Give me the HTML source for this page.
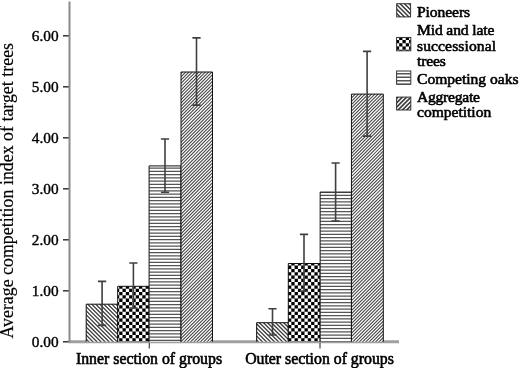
<!DOCTYPE html>
<html><head><meta charset="utf-8">
<style>
html,body{margin:0;padding:0;background:#fff;width:520px;height:368px;overflow:hidden}
svg{display:block;filter:grayscale(1)}
text{font-family:"Liberation Serif",serif;fill:#000;stroke:#000;stroke-width:0.6px}
.tl text{stroke-width:0.4px}
.yl{stroke-width:0.2px}
</style></head><body>
<svg width="520" height="368" viewBox="0 0 520 368">
<text class="yl" transform="translate(13,338.5) rotate(-90)" font-size="17.8" textLength="295.5" lengthAdjust="spacing">Average competition index of target trees</text>
<g class="tl" font-size="15.3" text-anchor="end"><text x="58.6" y="347.1">0.00</text><text x="58.6" y="296.1">1.00</text><text x="58.6" y="245.1">2.00</text><text x="58.6" y="194.1">3.00</text><text x="58.6" y="143.1">4.00</text><text x="58.6" y="92.1">5.00</text><text x="58.6" y="41.1">6.00</text></g>
<g stroke="#333" stroke-width="1.5"><line x1="63" y1="341.8" x2="69" y2="341.8"/><line x1="63" y1="290.8" x2="69" y2="290.8"/><line x1="63" y1="239.8" x2="69" y2="239.8"/><line x1="63" y1="188.8" x2="69" y2="188.8"/><line x1="63" y1="137.8" x2="69" y2="137.8"/><line x1="63" y1="86.8" x2="69" y2="86.8"/><line x1="63" y1="35.8" x2="69" y2="35.8"/></g>
<line x1="68.5" y1="341.85" x2="399" y2="341.85" stroke="#a0a0a0" stroke-width="3"/>
<line x1="69.5" y1="1.5" x2="69.5" y2="342.5" stroke="#8a8a8a" stroke-width="2"/>
<rect x="86.2" y="304.2" width="31.5" height="37.5" fill="#fff"/>
<clipPath id="c0"><rect x="86.2" y="304.2" width="31.5" height="37.5"/></clipPath>
<path clip-path="url(#c0)" d="M42.2 303.2L81.7 342.7M46.24 303.2L85.74 342.7M50.28 303.2L89.78 342.7M54.32 303.2L93.82 342.7M58.36 303.2L97.86 342.7M62.4 303.2L101.9 342.7M66.44 303.2L105.94 342.7M70.48 303.2L109.98 342.7M74.52 303.2L114.02 342.7M78.56 303.2L118.06 342.7M82.6 303.2L122.1 342.7M86.64 303.2L126.14 342.7M90.68 303.2L130.18 342.7M94.72 303.2L134.22 342.7M98.76 303.2L138.26 342.7M102.8 303.2L142.3 342.7M106.84 303.2L146.34 342.7M110.88 303.2L150.38 342.7M114.92 303.2L154.42 342.7M118.96 303.2L158.46 342.7" stroke="#3c3c3c" stroke-width="1.3" fill="none"/>
<path d="M86.2 341.7V304.2H117.7V341.7" fill="none" stroke="#111" stroke-width="1"/>
<rect x="117.7" y="286.3" width="31.4" height="55.4" fill="#fff"/>
<clipPath id="c1"><rect x="117.7" y="286.3" width="31.4" height="55.4"/></clipPath>
<path clip-path="url(#c1)" d="M115.9 282.1h3.3v3.3h-3.3zM122.5 282.1h3.3v3.3h-3.3zM129.1 282.1h3.3v3.3h-3.3zM135.7 282.1h3.3v3.3h-3.3zM142.3 282.1h3.3v3.3h-3.3zM148.9 282.1h3.3v3.3h-3.3zM112.6 285.4h3.3v3.3h-3.3zM119.2 285.4h3.3v3.3h-3.3zM125.8 285.4h3.3v3.3h-3.3zM132.4 285.4h3.3v3.3h-3.3zM139 285.4h3.3v3.3h-3.3zM145.6 285.4h3.3v3.3h-3.3zM152.2 285.4h3.3v3.3h-3.3zM115.9 288.7h3.3v3.3h-3.3zM122.5 288.7h3.3v3.3h-3.3zM129.1 288.7h3.3v3.3h-3.3zM135.7 288.7h3.3v3.3h-3.3zM142.3 288.7h3.3v3.3h-3.3zM148.9 288.7h3.3v3.3h-3.3zM112.6 292h3.3v3.3h-3.3zM119.2 292h3.3v3.3h-3.3zM125.8 292h3.3v3.3h-3.3zM132.4 292h3.3v3.3h-3.3zM139 292h3.3v3.3h-3.3zM145.6 292h3.3v3.3h-3.3zM152.2 292h3.3v3.3h-3.3zM115.9 295.3h3.3v3.3h-3.3zM122.5 295.3h3.3v3.3h-3.3zM129.1 295.3h3.3v3.3h-3.3zM135.7 295.3h3.3v3.3h-3.3zM142.3 295.3h3.3v3.3h-3.3zM148.9 295.3h3.3v3.3h-3.3zM112.6 298.6h3.3v3.3h-3.3zM119.2 298.6h3.3v3.3h-3.3zM125.8 298.6h3.3v3.3h-3.3zM132.4 298.6h3.3v3.3h-3.3zM139 298.6h3.3v3.3h-3.3zM145.6 298.6h3.3v3.3h-3.3zM152.2 298.6h3.3v3.3h-3.3zM115.9 301.9h3.3v3.3h-3.3zM122.5 301.9h3.3v3.3h-3.3zM129.1 301.9h3.3v3.3h-3.3zM135.7 301.9h3.3v3.3h-3.3zM142.3 301.9h3.3v3.3h-3.3zM148.9 301.9h3.3v3.3h-3.3zM112.6 305.2h3.3v3.3h-3.3zM119.2 305.2h3.3v3.3h-3.3zM125.8 305.2h3.3v3.3h-3.3zM132.4 305.2h3.3v3.3h-3.3zM139 305.2h3.3v3.3h-3.3zM145.6 305.2h3.3v3.3h-3.3zM152.2 305.2h3.3v3.3h-3.3zM115.9 308.5h3.3v3.3h-3.3zM122.5 308.5h3.3v3.3h-3.3zM129.1 308.5h3.3v3.3h-3.3zM135.7 308.5h3.3v3.3h-3.3zM142.3 308.5h3.3v3.3h-3.3zM148.9 308.5h3.3v3.3h-3.3zM112.6 311.8h3.3v3.3h-3.3zM119.2 311.8h3.3v3.3h-3.3zM125.8 311.8h3.3v3.3h-3.3zM132.4 311.8h3.3v3.3h-3.3zM139 311.8h3.3v3.3h-3.3zM145.6 311.8h3.3v3.3h-3.3zM152.2 311.8h3.3v3.3h-3.3zM115.9 315.1h3.3v3.3h-3.3zM122.5 315.1h3.3v3.3h-3.3zM129.1 315.1h3.3v3.3h-3.3zM135.7 315.1h3.3v3.3h-3.3zM142.3 315.1h3.3v3.3h-3.3zM148.9 315.1h3.3v3.3h-3.3zM112.6 318.4h3.3v3.3h-3.3zM119.2 318.4h3.3v3.3h-3.3zM125.8 318.4h3.3v3.3h-3.3zM132.4 318.4h3.3v3.3h-3.3zM139 318.4h3.3v3.3h-3.3zM145.6 318.4h3.3v3.3h-3.3zM152.2 318.4h3.3v3.3h-3.3zM115.9 321.7h3.3v3.3h-3.3zM122.5 321.7h3.3v3.3h-3.3zM129.1 321.7h3.3v3.3h-3.3zM135.7 321.7h3.3v3.3h-3.3zM142.3 321.7h3.3v3.3h-3.3zM148.9 321.7h3.3v3.3h-3.3zM112.6 325h3.3v3.3h-3.3zM119.2 325h3.3v3.3h-3.3zM125.8 325h3.3v3.3h-3.3zM132.4 325h3.3v3.3h-3.3zM139 325h3.3v3.3h-3.3zM145.6 325h3.3v3.3h-3.3zM152.2 325h3.3v3.3h-3.3zM115.9 328.3h3.3v3.3h-3.3zM122.5 328.3h3.3v3.3h-3.3zM129.1 328.3h3.3v3.3h-3.3zM135.7 328.3h3.3v3.3h-3.3zM142.3 328.3h3.3v3.3h-3.3zM148.9 328.3h3.3v3.3h-3.3zM112.6 331.6h3.3v3.3h-3.3zM119.2 331.6h3.3v3.3h-3.3zM125.8 331.6h3.3v3.3h-3.3zM132.4 331.6h3.3v3.3h-3.3zM139 331.6h3.3v3.3h-3.3zM145.6 331.6h3.3v3.3h-3.3zM152.2 331.6h3.3v3.3h-3.3zM115.9 334.9h3.3v3.3h-3.3zM122.5 334.9h3.3v3.3h-3.3zM129.1 334.9h3.3v3.3h-3.3zM135.7 334.9h3.3v3.3h-3.3zM142.3 334.9h3.3v3.3h-3.3zM148.9 334.9h3.3v3.3h-3.3zM112.6 338.2h3.3v3.3h-3.3zM119.2 338.2h3.3v3.3h-3.3zM125.8 338.2h3.3v3.3h-3.3zM132.4 338.2h3.3v3.3h-3.3zM139 338.2h3.3v3.3h-3.3zM145.6 338.2h3.3v3.3h-3.3zM152.2 338.2h3.3v3.3h-3.3zM115.9 341.5h3.3v3.3h-3.3zM122.5 341.5h3.3v3.3h-3.3zM129.1 341.5h3.3v3.3h-3.3zM135.7 341.5h3.3v3.3h-3.3zM142.3 341.5h3.3v3.3h-3.3zM148.9 341.5h3.3v3.3h-3.3zM112.6 344.8h3.3v3.3h-3.3zM119.2 344.8h3.3v3.3h-3.3zM125.8 344.8h3.3v3.3h-3.3zM132.4 344.8h3.3v3.3h-3.3zM139 344.8h3.3v3.3h-3.3zM145.6 344.8h3.3v3.3h-3.3zM152.2 344.8h3.3v3.3h-3.3z" fill="#000"/>
<path d="M117.7 341.7V286.3H149.1V341.7" fill="none" stroke="#111" stroke-width="1"/>
<rect x="149.1" y="165.9" width="31.9" height="175.8" fill="#fff"/>
<clipPath id="c2"><rect x="149.1" y="165.9" width="31.9" height="175.8"/></clipPath>
<path clip-path="url(#c2)" d="M149.1 161.02h31.9v1.35h-31.9zM149.1 164.27h31.9v1.35h-31.9zM149.1 167.52h31.9v1.35h-31.9zM149.1 170.77h31.9v1.35h-31.9zM149.1 174.02h31.9v1.35h-31.9zM149.1 177.27h31.9v1.35h-31.9zM149.1 180.52h31.9v1.35h-31.9zM149.1 183.77h31.9v1.35h-31.9zM149.1 187.02h31.9v1.35h-31.9zM149.1 190.27h31.9v1.35h-31.9zM149.1 193.52h31.9v1.35h-31.9zM149.1 196.77h31.9v1.35h-31.9zM149.1 200.02h31.9v1.35h-31.9zM149.1 203.27h31.9v1.35h-31.9zM149.1 206.52h31.9v1.35h-31.9zM149.1 209.77h31.9v1.35h-31.9zM149.1 213.02h31.9v1.35h-31.9zM149.1 216.27h31.9v1.35h-31.9zM149.1 219.52h31.9v1.35h-31.9zM149.1 222.77h31.9v1.35h-31.9zM149.1 226.02h31.9v1.35h-31.9zM149.1 229.27h31.9v1.35h-31.9zM149.1 232.52h31.9v1.35h-31.9zM149.1 235.77h31.9v1.35h-31.9zM149.1 239.02h31.9v1.35h-31.9zM149.1 242.27h31.9v1.35h-31.9zM149.1 245.52h31.9v1.35h-31.9zM149.1 248.77h31.9v1.35h-31.9zM149.1 252.02h31.9v1.35h-31.9zM149.1 255.27h31.9v1.35h-31.9zM149.1 258.52h31.9v1.35h-31.9zM149.1 261.77h31.9v1.35h-31.9zM149.1 265.02h31.9v1.35h-31.9zM149.1 268.27h31.9v1.35h-31.9zM149.1 271.52h31.9v1.35h-31.9zM149.1 274.77h31.9v1.35h-31.9zM149.1 278.02h31.9v1.35h-31.9zM149.1 281.27h31.9v1.35h-31.9zM149.1 284.52h31.9v1.35h-31.9zM149.1 287.77h31.9v1.35h-31.9zM149.1 291.02h31.9v1.35h-31.9zM149.1 294.27h31.9v1.35h-31.9zM149.1 297.52h31.9v1.35h-31.9zM149.1 300.77h31.9v1.35h-31.9zM149.1 304.02h31.9v1.35h-31.9zM149.1 307.27h31.9v1.35h-31.9zM149.1 310.52h31.9v1.35h-31.9zM149.1 313.77h31.9v1.35h-31.9zM149.1 317.02h31.9v1.35h-31.9zM149.1 320.27h31.9v1.35h-31.9zM149.1 323.52h31.9v1.35h-31.9zM149.1 326.77h31.9v1.35h-31.9zM149.1 330.02h31.9v1.35h-31.9zM149.1 333.27h31.9v1.35h-31.9zM149.1 336.52h31.9v1.35h-31.9zM149.1 339.77h31.9v1.35h-31.9zM149.1 343.02h31.9v1.35h-31.9z" fill="#555555"/>
<path d="M149.1 341.7V165.9H181V341.7" fill="none" stroke="#111" stroke-width="1"/>
<rect x="181" y="72" width="31.5" height="269.7" fill="#fff"/>
<clipPath id="c3"><rect x="181" y="72" width="31.5" height="269.7"/></clipPath>
<path clip-path="url(#c3)" d="M-94.7 342.7L177 71M-91.43 342.7L180.27 71M-88.16 342.7L183.54 71M-84.89 342.7L186.81 71M-81.62 342.7L190.08 71M-78.35 342.7L193.35 71M-75.08 342.7L196.62 71M-71.81 342.7L199.89 71M-68.54 342.7L203.16 71M-65.27 342.7L206.43 71M-62 342.7L209.7 71M-58.73 342.7L212.97 71M-55.46 342.7L216.24 71M-52.19 342.7L219.51 71M-48.92 342.7L222.78 71M-45.65 342.7L226.05 71M-42.38 342.7L229.32 71M-39.11 342.7L232.59 71M-35.84 342.7L235.86 71M-32.57 342.7L239.13 71M-29.3 342.7L242.4 71M-26.03 342.7L245.67 71M-22.76 342.7L248.94 71M-19.49 342.7L252.21 71M-16.22 342.7L255.48 71M-12.95 342.7L258.75 71M-9.68 342.7L262.02 71M-6.41 342.7L265.29 71M-3.14 342.7L268.56 71M0.13 342.7L271.83 71M3.4 342.7L275.1 71M6.67 342.7L278.37 71M9.94 342.7L281.64 71M13.21 342.7L284.91 71M16.48 342.7L288.18 71M19.75 342.7L291.45 71M23.02 342.7L294.72 71M26.29 342.7L297.99 71M29.56 342.7L301.26 71M32.83 342.7L304.53 71M36.1 342.7L307.8 71M39.37 342.7L311.07 71M42.64 342.7L314.34 71M45.91 342.7L317.61 71M49.18 342.7L320.88 71M52.45 342.7L324.15 71M55.72 342.7L327.42 71M58.99 342.7L330.69 71M62.26 342.7L333.96 71M65.53 342.7L337.23 71M68.8 342.7L340.5 71M72.07 342.7L343.77 71M75.34 342.7L347.04 71M78.61 342.7L350.31 71M81.88 342.7L353.58 71M85.15 342.7L356.85 71M88.42 342.7L360.12 71M91.69 342.7L363.39 71M94.96 342.7L366.66 71M98.23 342.7L369.93 71M101.5 342.7L373.2 71M104.77 342.7L376.47 71M108.04 342.7L379.74 71M111.31 342.7L383.01 71M114.58 342.7L386.28 71M117.85 342.7L389.55 71M121.12 342.7L392.82 71M124.39 342.7L396.09 71M127.66 342.7L399.36 71M130.93 342.7L402.63 71M134.2 342.7L405.9 71M137.47 342.7L409.17 71M140.74 342.7L412.44 71M144.01 342.7L415.71 71M147.28 342.7L418.98 71M150.55 342.7L422.25 71M153.82 342.7L425.52 71M157.09 342.7L428.79 71M160.36 342.7L432.06 71M163.63 342.7L435.33 71M166.9 342.7L438.6 71M170.17 342.7L441.87 71M173.44 342.7L445.14 71M176.71 342.7L448.41 71M179.98 342.7L451.68 71M183.25 342.7L454.95 71M186.52 342.7L458.22 71M189.79 342.7L461.49 71M193.06 342.7L464.76 71M196.33 342.7L468.03 71M199.6 342.7L471.3 71M202.87 342.7L474.57 71M206.14 342.7L477.84 71M209.41 342.7L481.11 71M212.68 342.7L484.38 71" stroke="#404040" stroke-width="1.05" fill="none"/>
<path d="M181 341.7V72H212.5V341.7" fill="none" stroke="#111" stroke-width="1"/>
<rect x="256.65" y="322.7" width="31.65" height="19" fill="#fff"/>
<clipPath id="c4"><rect x="256.65" y="322.7" width="31.65" height="19"/></clipPath>
<path clip-path="url(#c4)" d="M230.18 321.7L251.18 342.7M234.22 321.7L255.22 342.7M238.26 321.7L259.26 342.7M242.3 321.7L263.3 342.7M246.34 321.7L267.34 342.7M250.38 321.7L271.38 342.7M254.42 321.7L275.42 342.7M258.46 321.7L279.46 342.7M262.5 321.7L283.5 342.7M266.54 321.7L287.54 342.7M270.58 321.7L291.58 342.7M274.62 321.7L295.62 342.7M278.66 321.7L299.66 342.7M282.7 321.7L303.7 342.7M286.74 321.7L307.74 342.7M290.78 321.7L311.78 342.7" stroke="#3c3c3c" stroke-width="1.3" fill="none"/>
<path d="M256.65 341.7V322.7H288.3V341.7" fill="none" stroke="#111" stroke-width="1"/>
<rect x="288.3" y="263.5" width="31.85" height="78.2" fill="#fff"/>
<clipPath id="c5"><rect x="288.3" y="263.5" width="31.85" height="78.2"/></clipPath>
<path clip-path="url(#c5)" d="M288 259h3.3v3.3h-3.3zM294.6 259h3.3v3.3h-3.3zM301.2 259h3.3v3.3h-3.3zM307.8 259h3.3v3.3h-3.3zM314.4 259h3.3v3.3h-3.3zM321 259h3.3v3.3h-3.3zM284.7 262.3h3.3v3.3h-3.3zM291.3 262.3h3.3v3.3h-3.3zM297.9 262.3h3.3v3.3h-3.3zM304.5 262.3h3.3v3.3h-3.3zM311.1 262.3h3.3v3.3h-3.3zM317.7 262.3h3.3v3.3h-3.3zM288 265.6h3.3v3.3h-3.3zM294.6 265.6h3.3v3.3h-3.3zM301.2 265.6h3.3v3.3h-3.3zM307.8 265.6h3.3v3.3h-3.3zM314.4 265.6h3.3v3.3h-3.3zM321 265.6h3.3v3.3h-3.3zM284.7 268.9h3.3v3.3h-3.3zM291.3 268.9h3.3v3.3h-3.3zM297.9 268.9h3.3v3.3h-3.3zM304.5 268.9h3.3v3.3h-3.3zM311.1 268.9h3.3v3.3h-3.3zM317.7 268.9h3.3v3.3h-3.3zM288 272.2h3.3v3.3h-3.3zM294.6 272.2h3.3v3.3h-3.3zM301.2 272.2h3.3v3.3h-3.3zM307.8 272.2h3.3v3.3h-3.3zM314.4 272.2h3.3v3.3h-3.3zM321 272.2h3.3v3.3h-3.3zM284.7 275.5h3.3v3.3h-3.3zM291.3 275.5h3.3v3.3h-3.3zM297.9 275.5h3.3v3.3h-3.3zM304.5 275.5h3.3v3.3h-3.3zM311.1 275.5h3.3v3.3h-3.3zM317.7 275.5h3.3v3.3h-3.3zM288 278.8h3.3v3.3h-3.3zM294.6 278.8h3.3v3.3h-3.3zM301.2 278.8h3.3v3.3h-3.3zM307.8 278.8h3.3v3.3h-3.3zM314.4 278.8h3.3v3.3h-3.3zM321 278.8h3.3v3.3h-3.3zM284.7 282.1h3.3v3.3h-3.3zM291.3 282.1h3.3v3.3h-3.3zM297.9 282.1h3.3v3.3h-3.3zM304.5 282.1h3.3v3.3h-3.3zM311.1 282.1h3.3v3.3h-3.3zM317.7 282.1h3.3v3.3h-3.3zM288 285.4h3.3v3.3h-3.3zM294.6 285.4h3.3v3.3h-3.3zM301.2 285.4h3.3v3.3h-3.3zM307.8 285.4h3.3v3.3h-3.3zM314.4 285.4h3.3v3.3h-3.3zM321 285.4h3.3v3.3h-3.3zM284.7 288.7h3.3v3.3h-3.3zM291.3 288.7h3.3v3.3h-3.3zM297.9 288.7h3.3v3.3h-3.3zM304.5 288.7h3.3v3.3h-3.3zM311.1 288.7h3.3v3.3h-3.3zM317.7 288.7h3.3v3.3h-3.3zM288 292h3.3v3.3h-3.3zM294.6 292h3.3v3.3h-3.3zM301.2 292h3.3v3.3h-3.3zM307.8 292h3.3v3.3h-3.3zM314.4 292h3.3v3.3h-3.3zM321 292h3.3v3.3h-3.3zM284.7 295.3h3.3v3.3h-3.3zM291.3 295.3h3.3v3.3h-3.3zM297.9 295.3h3.3v3.3h-3.3zM304.5 295.3h3.3v3.3h-3.3zM311.1 295.3h3.3v3.3h-3.3zM317.7 295.3h3.3v3.3h-3.3zM288 298.6h3.3v3.3h-3.3zM294.6 298.6h3.3v3.3h-3.3zM301.2 298.6h3.3v3.3h-3.3zM307.8 298.6h3.3v3.3h-3.3zM314.4 298.6h3.3v3.3h-3.3zM321 298.6h3.3v3.3h-3.3zM284.7 301.9h3.3v3.3h-3.3zM291.3 301.9h3.3v3.3h-3.3zM297.9 301.9h3.3v3.3h-3.3zM304.5 301.9h3.3v3.3h-3.3zM311.1 301.9h3.3v3.3h-3.3zM317.7 301.9h3.3v3.3h-3.3zM288 305.2h3.3v3.3h-3.3zM294.6 305.2h3.3v3.3h-3.3zM301.2 305.2h3.3v3.3h-3.3zM307.8 305.2h3.3v3.3h-3.3zM314.4 305.2h3.3v3.3h-3.3zM321 305.2h3.3v3.3h-3.3zM284.7 308.5h3.3v3.3h-3.3zM291.3 308.5h3.3v3.3h-3.3zM297.9 308.5h3.3v3.3h-3.3zM304.5 308.5h3.3v3.3h-3.3zM311.1 308.5h3.3v3.3h-3.3zM317.7 308.5h3.3v3.3h-3.3zM288 311.8h3.3v3.3h-3.3zM294.6 311.8h3.3v3.3h-3.3zM301.2 311.8h3.3v3.3h-3.3zM307.8 311.8h3.3v3.3h-3.3zM314.4 311.8h3.3v3.3h-3.3zM321 311.8h3.3v3.3h-3.3zM284.7 315.1h3.3v3.3h-3.3zM291.3 315.1h3.3v3.3h-3.3zM297.9 315.1h3.3v3.3h-3.3zM304.5 315.1h3.3v3.3h-3.3zM311.1 315.1h3.3v3.3h-3.3zM317.7 315.1h3.3v3.3h-3.3zM288 318.4h3.3v3.3h-3.3zM294.6 318.4h3.3v3.3h-3.3zM301.2 318.4h3.3v3.3h-3.3zM307.8 318.4h3.3v3.3h-3.3zM314.4 318.4h3.3v3.3h-3.3zM321 318.4h3.3v3.3h-3.3zM284.7 321.7h3.3v3.3h-3.3zM291.3 321.7h3.3v3.3h-3.3zM297.9 321.7h3.3v3.3h-3.3zM304.5 321.7h3.3v3.3h-3.3zM311.1 321.7h3.3v3.3h-3.3zM317.7 321.7h3.3v3.3h-3.3zM288 325h3.3v3.3h-3.3zM294.6 325h3.3v3.3h-3.3zM301.2 325h3.3v3.3h-3.3zM307.8 325h3.3v3.3h-3.3zM314.4 325h3.3v3.3h-3.3zM321 325h3.3v3.3h-3.3zM284.7 328.3h3.3v3.3h-3.3zM291.3 328.3h3.3v3.3h-3.3zM297.9 328.3h3.3v3.3h-3.3zM304.5 328.3h3.3v3.3h-3.3zM311.1 328.3h3.3v3.3h-3.3zM317.7 328.3h3.3v3.3h-3.3zM288 331.6h3.3v3.3h-3.3zM294.6 331.6h3.3v3.3h-3.3zM301.2 331.6h3.3v3.3h-3.3zM307.8 331.6h3.3v3.3h-3.3zM314.4 331.6h3.3v3.3h-3.3zM321 331.6h3.3v3.3h-3.3zM284.7 334.9h3.3v3.3h-3.3zM291.3 334.9h3.3v3.3h-3.3zM297.9 334.9h3.3v3.3h-3.3zM304.5 334.9h3.3v3.3h-3.3zM311.1 334.9h3.3v3.3h-3.3zM317.7 334.9h3.3v3.3h-3.3zM288 338.2h3.3v3.3h-3.3zM294.6 338.2h3.3v3.3h-3.3zM301.2 338.2h3.3v3.3h-3.3zM307.8 338.2h3.3v3.3h-3.3zM314.4 338.2h3.3v3.3h-3.3zM321 338.2h3.3v3.3h-3.3zM284.7 341.5h3.3v3.3h-3.3zM291.3 341.5h3.3v3.3h-3.3zM297.9 341.5h3.3v3.3h-3.3zM304.5 341.5h3.3v3.3h-3.3zM311.1 341.5h3.3v3.3h-3.3zM317.7 341.5h3.3v3.3h-3.3zM288 344.8h3.3v3.3h-3.3zM294.6 344.8h3.3v3.3h-3.3zM301.2 344.8h3.3v3.3h-3.3zM307.8 344.8h3.3v3.3h-3.3zM314.4 344.8h3.3v3.3h-3.3zM321 344.8h3.3v3.3h-3.3z" fill="#000"/>
<path d="M288.3 341.7V263.5H320.15V341.7" fill="none" stroke="#111" stroke-width="1"/>
<rect x="320.15" y="192.1" width="31.3" height="149.6" fill="#fff"/>
<clipPath id="c6"><rect x="320.15" y="192.1" width="31.3" height="149.6"/></clipPath>
<path clip-path="url(#c6)" d="M320.15 184.97h31.3v1.35h-31.3zM320.15 188.22h31.3v1.35h-31.3zM320.15 191.47h31.3v1.35h-31.3zM320.15 194.72h31.3v1.35h-31.3zM320.15 197.97h31.3v1.35h-31.3zM320.15 201.22h31.3v1.35h-31.3zM320.15 204.47h31.3v1.35h-31.3zM320.15 207.72h31.3v1.35h-31.3zM320.15 210.97h31.3v1.35h-31.3zM320.15 214.22h31.3v1.35h-31.3zM320.15 217.47h31.3v1.35h-31.3zM320.15 220.72h31.3v1.35h-31.3zM320.15 223.97h31.3v1.35h-31.3zM320.15 227.22h31.3v1.35h-31.3zM320.15 230.47h31.3v1.35h-31.3zM320.15 233.72h31.3v1.35h-31.3zM320.15 236.97h31.3v1.35h-31.3zM320.15 240.22h31.3v1.35h-31.3zM320.15 243.47h31.3v1.35h-31.3zM320.15 246.72h31.3v1.35h-31.3zM320.15 249.97h31.3v1.35h-31.3zM320.15 253.22h31.3v1.35h-31.3zM320.15 256.47h31.3v1.35h-31.3zM320.15 259.72h31.3v1.35h-31.3zM320.15 262.97h31.3v1.35h-31.3zM320.15 266.22h31.3v1.35h-31.3zM320.15 269.47h31.3v1.35h-31.3zM320.15 272.72h31.3v1.35h-31.3zM320.15 275.97h31.3v1.35h-31.3zM320.15 279.22h31.3v1.35h-31.3zM320.15 282.47h31.3v1.35h-31.3zM320.15 285.72h31.3v1.35h-31.3zM320.15 288.97h31.3v1.35h-31.3zM320.15 292.22h31.3v1.35h-31.3zM320.15 295.47h31.3v1.35h-31.3zM320.15 298.72h31.3v1.35h-31.3zM320.15 301.97h31.3v1.35h-31.3zM320.15 305.22h31.3v1.35h-31.3zM320.15 308.47h31.3v1.35h-31.3zM320.15 311.72h31.3v1.35h-31.3zM320.15 314.97h31.3v1.35h-31.3zM320.15 318.22h31.3v1.35h-31.3zM320.15 321.47h31.3v1.35h-31.3zM320.15 324.72h31.3v1.35h-31.3zM320.15 327.97h31.3v1.35h-31.3zM320.15 331.22h31.3v1.35h-31.3zM320.15 334.47h31.3v1.35h-31.3zM320.15 337.72h31.3v1.35h-31.3zM320.15 340.97h31.3v1.35h-31.3zM320.15 344.22h31.3v1.35h-31.3z" fill="#555555"/>
<path d="M320.15 341.7V192.1H351.45V341.7" fill="none" stroke="#111" stroke-width="1"/>
<rect x="351.45" y="94.1" width="31.85" height="247.6" fill="#fff"/>
<clipPath id="c7"><rect x="351.45" y="94.1" width="31.85" height="247.6"/></clipPath>
<path clip-path="url(#c7)" d="M96.88 342.7L346.48 93.1M100.15 342.7L349.75 93.1M103.42 342.7L353.02 93.1M106.69 342.7L356.29 93.1M109.96 342.7L359.56 93.1M113.23 342.7L362.83 93.1M116.5 342.7L366.1 93.1M119.77 342.7L369.37 93.1M123.04 342.7L372.64 93.1M126.31 342.7L375.91 93.1M129.58 342.7L379.18 93.1M132.85 342.7L382.45 93.1M136.12 342.7L385.72 93.1M139.39 342.7L388.99 93.1M142.66 342.7L392.26 93.1M145.93 342.7L395.53 93.1M149.2 342.7L398.8 93.1M152.47 342.7L402.07 93.1M155.74 342.7L405.34 93.1M159.01 342.7L408.61 93.1M162.28 342.7L411.88 93.1M165.55 342.7L415.15 93.1M168.82 342.7L418.42 93.1M172.09 342.7L421.69 93.1M175.36 342.7L424.96 93.1M178.63 342.7L428.23 93.1M181.9 342.7L431.5 93.1M185.17 342.7L434.77 93.1M188.44 342.7L438.04 93.1M191.71 342.7L441.31 93.1M194.98 342.7L444.58 93.1M198.25 342.7L447.85 93.1M201.52 342.7L451.12 93.1M204.79 342.7L454.39 93.1M208.06 342.7L457.66 93.1M211.33 342.7L460.93 93.1M214.6 342.7L464.2 93.1M217.87 342.7L467.47 93.1M221.14 342.7L470.74 93.1M224.41 342.7L474.01 93.1M227.68 342.7L477.28 93.1M230.95 342.7L480.55 93.1M234.22 342.7L483.82 93.1M237.49 342.7L487.09 93.1M240.76 342.7L490.36 93.1M244.03 342.7L493.63 93.1M247.3 342.7L496.9 93.1M250.57 342.7L500.17 93.1M253.84 342.7L503.44 93.1M257.11 342.7L506.71 93.1M260.38 342.7L509.98 93.1M263.65 342.7L513.25 93.1M266.92 342.7L516.52 93.1M270.19 342.7L519.79 93.1M273.46 342.7L523.06 93.1M276.73 342.7L526.33 93.1M280 342.7L529.6 93.1M283.27 342.7L532.87 93.1M286.54 342.7L536.14 93.1M289.81 342.7L539.41 93.1M293.08 342.7L542.68 93.1M296.35 342.7L545.95 93.1M299.62 342.7L549.22 93.1M302.89 342.7L552.49 93.1M306.16 342.7L555.76 93.1M309.43 342.7L559.03 93.1M312.7 342.7L562.3 93.1M315.97 342.7L565.57 93.1M319.24 342.7L568.84 93.1M322.51 342.7L572.11 93.1M325.78 342.7L575.38 93.1M329.05 342.7L578.65 93.1M332.32 342.7L581.92 93.1M335.59 342.7L585.19 93.1M338.86 342.7L588.46 93.1M342.13 342.7L591.73 93.1M345.4 342.7L595 93.1M348.67 342.7L598.27 93.1M351.94 342.7L601.54 93.1M355.21 342.7L604.81 93.1M358.48 342.7L608.08 93.1M361.75 342.7L611.35 93.1M365.02 342.7L614.62 93.1M368.29 342.7L617.89 93.1M371.56 342.7L621.16 93.1M374.83 342.7L624.43 93.1M378.1 342.7L627.7 93.1M381.37 342.7L630.97 93.1M384.64 342.7L634.24 93.1" stroke="#404040" stroke-width="1.05" fill="none"/>
<path d="M351.45 341.7V94.1H383.3V341.7" fill="none" stroke="#111" stroke-width="1"/>
<path d="M102.1 281.4V325.4M98 281.4H106.2M98 325.4H106.2M133.4 263V308M129.3 263H137.5M129.3 308H137.5M165 139V192.2M160.9 139H169.1M160.9 192.2H169.1M196.5 37.9V105.1M192.4 37.9H200.6M192.4 105.1H200.6M272.5 308.8V335M268.4 308.8H276.6M268.4 335H276.6M304 234.4V291.1M299.9 234.4H308.1M299.9 291.1H308.1M335.6 163V221.1M331.5 163H339.7M331.5 221.1H339.7M367.1 51.4V136.1M363 51.4H371.2M363 136.1H371.2" stroke="#404040" stroke-width="1.6" fill="none"/>
<g stroke="#444" stroke-width="1.2">
<line x1="149.3" y1="343" x2="149.3" y2="348.6"/>
<line x1="320" y1="343" x2="320" y2="348.6"/>
</g>
<g font-size="15.8" text-anchor="middle">
<text x="149" y="364">Inner section of groups</text>
<text x="319.5" y="364">Outer section of groups</text>
</g>
<rect x="396.7" y="3.7" width="13.9" height="13.2" fill="#fff"/>
<clipPath id="l0"><rect x="396.7" y="3.7" width="13.9" height="13.2"/></clipPath>
<path clip-path="url(#l0)" d="M377.1 2.7L392.3 17.9M381.5 2.7L396.7 17.9M385.9 2.7L401.1 17.9M390.3 2.7L405.5 17.9M394.7 2.7L409.9 17.9M399.1 2.7L414.3 17.9M403.5 2.7L418.7 17.9M407.9 2.7L423.1 17.9M412.3 2.7L427.5 17.9" stroke="#3c3c3c" stroke-width="1.45" fill="none"/>
<rect x="396.7" y="3.7" width="13.9" height="13.2" fill="none" stroke="#333" stroke-width="1"/>
<rect x="396.6" y="37.45" width="14.2" height="13.35" fill="#fff"/>
<clipPath id="l1"><rect x="396.6" y="37.45" width="14.2" height="13.35"/></clipPath>
<path clip-path="url(#l1)" d="M395.85 33.35h3.3v3.3h-3.3zM402.45 33.35h3.3v3.3h-3.3zM409.05 33.35h3.3v3.3h-3.3zM392.55 36.65h3.3v3.3h-3.3zM399.15 36.65h3.3v3.3h-3.3zM405.75 36.65h3.3v3.3h-3.3zM412.35 36.65h3.3v3.3h-3.3zM395.85 39.95h3.3v3.3h-3.3zM402.45 39.95h3.3v3.3h-3.3zM409.05 39.95h3.3v3.3h-3.3zM392.55 43.25h3.3v3.3h-3.3zM399.15 43.25h3.3v3.3h-3.3zM405.75 43.25h3.3v3.3h-3.3zM412.35 43.25h3.3v3.3h-3.3zM395.85 46.55h3.3v3.3h-3.3zM402.45 46.55h3.3v3.3h-3.3zM409.05 46.55h3.3v3.3h-3.3zM392.55 49.85h3.3v3.3h-3.3zM399.15 49.85h3.3v3.3h-3.3zM405.75 49.85h3.3v3.3h-3.3zM412.35 49.85h3.3v3.3h-3.3zM395.85 53.15h3.3v3.3h-3.3zM402.45 53.15h3.3v3.3h-3.3zM409.05 53.15h3.3v3.3h-3.3z" fill="#000"/>
<rect x="396.6" y="37.45" width="14.2" height="13.35" fill="none" stroke="#333" stroke-width="1"/>
<rect x="396.6" y="71" width="14.2" height="13.3" fill="#fff"/>
<clipPath id="l2"><rect x="396.6" y="71" width="14.2" height="13.3"/></clipPath>
<path clip-path="url(#l2)" d="M396.6 66.15h14.2v1.5h-14.2zM396.6 69.6h14.2v1.5h-14.2zM396.6 73.05h14.2v1.5h-14.2zM396.6 76.5h14.2v1.5h-14.2zM396.6 79.95h14.2v1.5h-14.2zM396.6 83.4h14.2v1.5h-14.2zM396.6 86.85h14.2v1.5h-14.2z" fill="#555555"/>
<rect x="396.6" y="71" width="14.2" height="13.3" fill="none" stroke="#333" stroke-width="1"/>
<rect x="396.6" y="97.1" width="14.2" height="12.9" fill="#fff"/>
<clipPath id="l3"><rect x="396.6" y="97.1" width="14.2" height="12.9"/></clipPath>
<path clip-path="url(#l3)" d="M375.55 111L390.45 96.1M379.85 111L394.75 96.1M384.15 111L399.05 96.1M388.45 111L403.35 96.1M392.75 111L407.65 96.1M397.05 111L411.95 96.1M401.35 111L416.25 96.1M405.65 111L420.55 96.1M409.95 111L424.85 96.1" stroke="#404040" stroke-width="1.7" fill="none"/>
<rect x="396.6" y="97.1" width="14.2" height="12.9" fill="none" stroke="#333" stroke-width="1"/>
<g font-size="15.6">
<text x="417" y="16.9" textLength="53.15" lengthAdjust="spacing">Pioneers</text><text x="417" y="34.8" textLength="77.36" lengthAdjust="spacing">Mid and late</text><text x="417" y="50.8" textLength="79.07" lengthAdjust="spacing">successional</text><text x="417" y="66.0" textLength="28.76" lengthAdjust="spacing">trees</text><text x="417" y="84.1" textLength="101.51" lengthAdjust="spacing">Competing oaks</text><text x="417" y="102.0" textLength="63.00" lengthAdjust="spacing">Aggregate</text><text x="417" y="117.0" textLength="74.20" lengthAdjust="spacing">competition</text>
</g>
</svg>
</body></html>
